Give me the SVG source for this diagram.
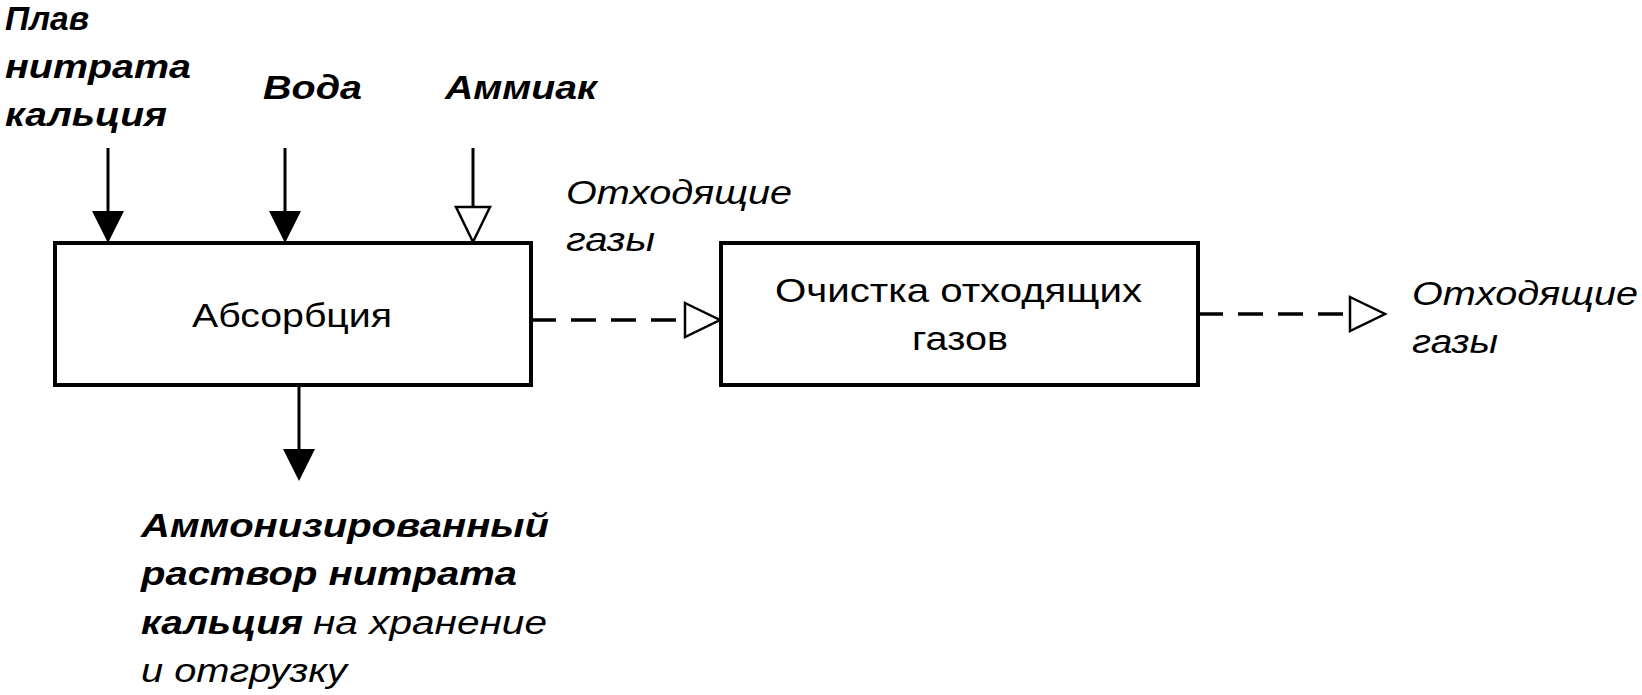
<svg xmlns="http://www.w3.org/2000/svg" width="1642" height="695" viewBox="0 0 1642 695">
<style>
text{font-family:"Liberation Sans",Arial,sans-serif;fill:#000;font-size:34px}
.bi{font-weight:bold;font-style:italic}
.i{font-style:italic}
.box{fill:#fff;stroke:#000;stroke-width:4}
.ln{stroke:#000;stroke-width:3;fill:none}
.dash{stroke:#000;stroke-width:3.5;fill:none;stroke-dasharray:25 15}
</style>
<defs>
<marker id="fa" markerUnits="userSpaceOnUse" viewBox="0 0 32 32" refX="0" refY="16" markerWidth="32" markerHeight="32" orient="auto">
<path d="M0,0 L32,16 L0,32 Z" fill="#000"/>
</marker>
<marker id="oa" markerUnits="userSpaceOnUse" viewBox="-2 -2 40 38" refX="0" refY="17" markerWidth="40" markerHeight="38" orient="auto">
<path d="M0,0 L35,17 L0,34 Z" fill="#fff" stroke="#000" stroke-width="2.5"/>
</marker>
</defs>
<g id="connectors">
<line class="ln" x1="108" y1="148" x2="108" y2="211" marker-end="url(#fa)"/>
<line class="ln" x1="285" y1="148" x2="285" y2="211" marker-end="url(#fa)"/>
<line class="ln" x1="473" y1="148" x2="473" y2="207" marker-end="url(#oa)"/>
<line class="ln" x1="299" y1="386" x2="299" y2="449" marker-end="url(#fa)"/>
<line class="dash" x1="531" y1="320" x2="685" y2="320" marker-end="url(#oa)"/>
<line class="dash" x1="1198" y1="314" x2="1350" y2="314" marker-end="url(#oa)"/>
</g>
<g id="node-absorption">
<rect class="box" x="55" y="243" width="476" height="142"/>
<text x="192" y="327" textLength="200" lengthAdjust="spacingAndGlyphs">Абсорбция</text>
</g>
<g id="node-cleaning">
<rect class="box" x="721" y="243" width="477" height="142"/>
<text x="775" y="302" textLength="367" lengthAdjust="spacingAndGlyphs">Очистка отходящих</text>
<text x="912" y="350" textLength="96" lengthAdjust="spacingAndGlyphs">газов</text>
</g>
<g id="label-melt">
<text class="bi" x="5" y="30" textLength="84" lengthAdjust="spacingAndGlyphs">Плав</text>
<text class="bi" x="5" y="78" textLength="186" lengthAdjust="spacingAndGlyphs">нитрата</text>
<text class="bi" x="5" y="126" textLength="162" lengthAdjust="spacingAndGlyphs">кальция</text>
</g>
<g id="label-water">
<text class="bi" x="263" y="99" textLength="99" lengthAdjust="spacingAndGlyphs">Вода</text>
</g>
<g id="label-ammonia">
<text class="bi" x="445" y="99" textLength="152" lengthAdjust="spacingAndGlyphs">Аммиак</text>
</g>
<g id="label-offgas-1">
<text class="i" x="566" y="204" textLength="226" lengthAdjust="spacingAndGlyphs">Отходящие</text>
<text class="i" x="566" y="251" textLength="89" lengthAdjust="spacingAndGlyphs">газы</text>
</g>
<g id="label-offgas-2">
<text class="i" x="1412" y="305" textLength="226" lengthAdjust="spacingAndGlyphs">Отходящие</text>
<text class="i" x="1412" y="353" textLength="86" lengthAdjust="spacingAndGlyphs">газы</text>
</g>
<g id="label-product">
<text class="bi" x="141" y="537" textLength="408" lengthAdjust="spacingAndGlyphs">Аммонизированный</text>
<text class="bi" x="141" y="585" textLength="376" lengthAdjust="spacingAndGlyphs">раствор нитрата</text>
<text x="141" y="634"><tspan class="bi" textLength="162" lengthAdjust="spacingAndGlyphs">кальция</tspan><tspan class="i" x="313" textLength="234" lengthAdjust="spacingAndGlyphs">на хранение</tspan></text>
<text class="i" x="141" y="682" textLength="206" lengthAdjust="spacingAndGlyphs">и отгрузку</text>
</g>
</svg>
